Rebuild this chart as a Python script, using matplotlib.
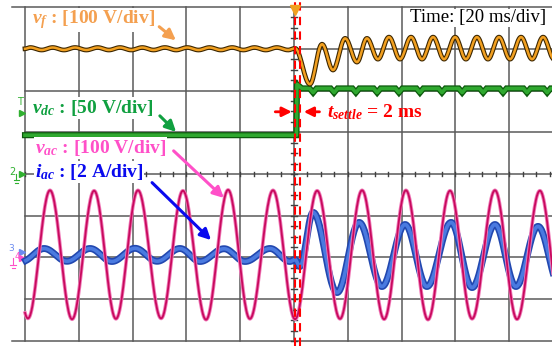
import numpy as np
import matplotlib.pyplot as plt

plt.rcParams['mathtext.fontset'] = 'custom'
plt.rcParams['mathtext.rm'] = 'Liberation Serif:bold'
plt.rcParams['mathtext.it'] = 'Liberation Serif:italic:bold'
plt.rcParams['mathtext.bf'] = 'Liberation Serif:bold'

# scope readings: time in ms (20 ms/div); extrema
# v_ac, 100 V/div
vac_t = [-7.0, 1.1, 9.3, 17.5, 25.7, 33.8, 42.0, 50.6, 58.7, 67.3, 75.5, 83.6, 92.2,
         100.4, 108.6, 117.1, 125.3, 133.5, 141.6, 149.8, 158.0, 166.2, 174.7, 182.9,
         191.4, 199.6]
vac_v = [153, -152, 155, -154, 154, -153, 155, -152, 154, -155, 156, -153, 155,
         -154, 154, -153, 155, -154, 155, -155, 154, -153, 155, -154, 154, -153]

# i_ac, 2 A/div
iac_t = [-1.1, 7.1, 15.6, 24.2, 32.3, 40.9, 49.1, 57.6, 65.1, 74.0, 81.8, 91.1, 98.5,
         100.4, 102.2, 107.1, 116.0, 124.2, 132.7, 141.3, 149.4, 158.4, 166.2, 174.7,
         182.5, 190.7, 198.9]
iac_a = [-0.31, 0.31, -0.30, 0.31, -0.31, 0.32, -0.30, 0.31, -0.31, 0.30, -0.31, 0.31, -0.31,
         -0.22, -0.55, 2.04, -1.80, 1.56, -1.51, 1.46, -1.51, 1.56, -1.56, 1.46,
         -1.51, 1.37, -1.51]

# v_f, 100 V/div (deviation from pre-step level)
vf_t = [0.0, 2.0, 6.2, 10.3, 14.5, 18.6, 22.8, 27.0, 31.2, 35.3, 39.5, 43.6, 47.8, 52.0,
        56.2, 60.3, 64.5, 68.6, 72.8, 77.0, 81.2, 85.3, 89.5, 93.6, 97.8, 100.4,
        105.9, 110.4, 114.5, 119.0, 123.4, 127.1, 131.2, 135.3, 139.4, 143.5, 147.6,
        151.7, 155.8, 159.9, 163.9, 168.0, 172.1, 176.2, 180.3, 184.4, 188.5, 192.6,
        196.7, 200.0]
vf_v = [0, 3, -3, 3, -3, 3, -3, 3, -3, 3, -3, 3, -3, 3,
        -3, 3, -3, 3, -3, 3, -3, 3, -3, 3, -3, 1,
        -85, 11, -51, 25, -32, 25, -25, 28, -25, 28, -25,
        28, -25, 28, -25, 28, -25, 28, -25, 28, -25, 28,
        -25, 10]

# v_dc, 50 V/div (deviation from pre-step level)
vdc_step_t = 100.9
vdc_peak = 61
vdc_level = 56
vdc_dip = 51
vdc_dip_t = [107.1, 114.9, 123.0, 130.9, 139.0, 146.8, 155.0, 162.5, 170.3, 177.7,
             186.6, 194.1]

# channel scales (units/div) and screen offsets (div)
vf_scale, vf_off = 100, 7.0
vdc_scale, vdc_off = 50, 4.93
vac_scale, vac_off = 100, 2.06
iac_scale, iac_off = 2, 2.06
t_settle = 2.0


def shape(t_ext, y_ext, n=30):
    tt, yy = [], []
    for i in range(len(t_ext) - 1):
        s = np.linspace(0, 1, n, endpoint=False)
        tt.append(t_ext[i] + (t_ext[i + 1] - t_ext[i]) * s)
        yy.append(y_ext[i] + (y_ext[i + 1] - y_ext[i]) * (1 - np.cos(np.pi * s)) / 2)
    tt.append([t_ext[-1]])
    yy.append([y_ext[-1]])
    t = np.concatenate(tt)
    y = np.concatenate(yy)
    keep = t >= 0
    return t[keep], y[keep]


fig = plt.figure(figsize=(5.52, 3.46), dpi=100)
ax = fig.add_axes([0, 0, 1, 1])
ax.set_xlim(-9.29, 195.9)
ax.set_ylim(-0.12, 8.168)
ax.axis('off')

# graticule
for k in range(11):
    ax.plot([20 * k, 20 * k], [0, 8], color='#5a5a5a', lw=1.1, zorder=1)
for k in range(9):
    x0 = -4.8 if k in (0, 8) else 0
    ax.plot([x0, 200], [k, k], color='#5a5a5a', lw=1.1, zorder=1)
for tk in np.arange(0, 200.1, 5):
    ax.plot([tk, tk], [3.95, 4.05], color='#404040', lw=1, zorder=1)
for dk in np.arange(0, 8.01, 0.25):
    ax.plot([99, 101], [dk, dk], color='#404040', lw=1, zorder=1)

# v_dc trace
vdc_t = [0, vdc_step_t, vdc_step_t + 0.2, vdc_step_t + 2.0]
vdc_y = [0, 0, vdc_peak, vdc_level]
for td in vdc_dip_t:
    vdc_t += [td - 1.3, td, td + 1.3]
    vdc_y += [vdc_level, vdc_dip, vdc_level]
vdc_t += [200]
vdc_y += [vdc_level]
vdc_d = vdc_off + np.array(vdc_y) / vdc_scale
ax.plot(vdc_t, vdc_d, color='#0c5a0c', lw=4.4, zorder=3, solid_joinstyle='miter')
ax.plot(vdc_t, vdc_d, color='#2fa82f', lw=2.6, zorder=3)

# v_f trace
t, y = shape(vf_t, vf_v, 16)
ax.plot(t, vf_off + y / vf_scale, color='#3c2600', lw=3.4, zorder=3)
ax.plot(t, vf_off + y / vf_scale, color='#f2a020', lw=1.8, zorder=3)

# i_ac trace
t, y = shape(iac_t, iac_a)
ax.plot(t, iac_off + y / iac_scale, color='#2248b0', lw=5.0, zorder=4)
ax.plot(t, iac_off + y / iac_scale, color='#4a7ae0', lw=2.6, zorder=4)

# v_ac trace
t, y = shape(vac_t, vac_v)
ax.plot(t, vac_off + y / vac_scale, color='#f07ab8', lw=2.6, zorder=5)
ax.plot(t, vac_off + y / vac_scale, color='#c80a5e', lw=1.3, zorder=5)

# settle markers
ax.axvline(100.4, color='red', lw=1.5, ls=(0, (4, 3)), zorder=6)
ax.axvline(100.4 + t_settle, color='red', lw=1.5, ls=(0, (4, 3)), zorder=6)
ax.annotate('', xy=(100.2, 5.49), xytext=(92.0, 5.49),
            arrowprops=dict(arrowstyle='-|>', color='red', lw=2, mutation_scale=14), zorder=7)
ax.annotate('', xy=(102.6, 5.49), xytext=(110.5, 5.49),
            arrowprops=dict(arrowstyle='-|>', color='red', lw=2, mutation_scale=14), zorder=7)
ax.text(112.3, 5.49, r'$t_{settle}$ = 2 ms', color='red', fontsize=14,
        family='Liberation Serif', weight='bold', va='center', ha='left', zorder=7)

# trigger marker
ax.plot([100.4], [7.93], marker='v', color='#f0a020', ms=7, zorder=7)

# channel labels
lab = dict(family='Liberation Serif', weight='bold', fontsize=14, va='center', ha='left',
           zorder=8, bbox=dict(fc='white', ec='none', pad=0.5))
ax.text(2.6, 7.69, r'$v_f$ : [100 V/div]', color='#f4a050', **lab)
ax.text(2.6, 5.58, r'$v_{dc}$ : [50 V/div]', color='#10a040', **lab)
ax.text(3.7, 4.62, r'$v_{ac}$ : [100 V/div]', color='#ff50c8', **lab)
ax.text(3.7, 4.05, r'$i_{ac}$ : [2 A/div]', color='#0a0aee', **lab)
ax.text(143.0, 7.74, 'Time: [20 ms/div]', color='black', family='Liberation Serif',
        fontsize=13.5, va='center', ha='left', zorder=8,
        bbox=dict(fc='white', ec='none', pad=0.5))

arr = dict(arrowstyle='-|>', lw=2.2, mutation_scale=16)
ax.annotate('', xy=(56.9, 7.16), xytext=(49.1, 7.57),
            arrowprops=dict(color='#f4a050', **arr), zorder=8)
ax.annotate('', xy=(56.9, 4.96), xytext=(49.4, 5.44),
            arrowprops=dict(color='#10a040', **arr), zorder=8)
ax.annotate('', xy=(74.7, 3.38), xytext=(54.5, 4.60),
            arrowprops=dict(color='#ff50c8', **arr), zorder=8)
ax.annotate('', xy=(69.9, 2.37), xytext=(46.5, 3.84),
            arrowprops=dict(color='#0a0aee', **arr), zorder=8)

# channel ground markers
ax.text(-1.9, 5.72, 'T', color='#30b030', fontsize=7, ha='center', va='center')
ax.plot([-1.0], [5.46], marker='>', color='#30b030', ms=4)
ax.text(-4.6, 4.05, '2', color='#30b030', fontsize=7, ha='center', va='center')
ax.plot([-1.2], [4.0], marker='>', color='#30b030', ms=4)
ax.plot([-3.2, -3.2], [4.0, 3.85], color='#30b030', lw=0.8)
ax.plot([-4.2, -2.2], [3.85, 3.85], color='#30b030', lw=0.8)
ax.plot([-3.8, -2.6], [3.79, 3.79], color='#30b030', lw=0.8)
ax.text(-5.0, 2.22, '3', color='#6a8af0', fontsize=6.5, ha='center', va='center')
ax.text(-2.9, 2.02, '4', color='#ff50c8', fontsize=6.5, ha='center', va='center')
ax.plot([-1.0], [2.12], marker='>', color='#6a8af0', ms=4)
ax.plot([-1.0], [1.98], marker='>', color='#ff50c8', ms=4)
ax.plot([-4.4, -4.4], [1.98, 1.82], color='#ff50c8', lw=0.8)
ax.plot([-5.4, -3.4], [1.82, 1.82], color='#ff50c8', lw=0.8)
ax.plot([-5.0, -3.8], [1.76, 1.76], color='#ff50c8', lw=0.8)

fig.savefig('out.png', dpi=100)
